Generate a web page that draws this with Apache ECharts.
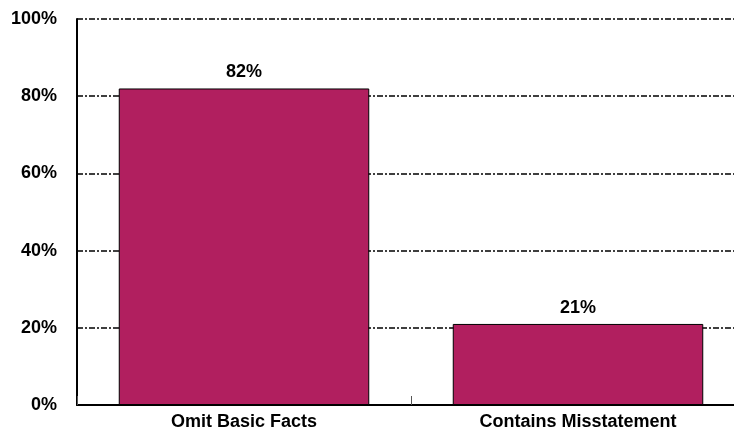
<!DOCTYPE html>
<html><head><meta charset="utf-8">
<script src="https://cdn.jsdelivr.net/npm/echarts@6/dist/echarts.min.js"></script>
<style>html,body{margin:0;padding:0;background:#fff;overflow:hidden}#c{width:745px;height:434px}</style>
</head><body><div id="c"></div>
<script>
const categories = ['Omit Basic Facts', 'Contains Misstatement'];
const values = [82, 21];
const yTicks = [0, 20, 40, 60, 80, 100];

const FONT = 'Liberation Sans, Arial, sans-serif';
const chart = echarts.init(document.getElementById('c'), null, {renderer: 'canvas'});
chart.setOption({
  animation: false,
  grid: {left: 77, right: 0, top: 19, bottom: 29, containLabel: false},
  xAxis: {
    type: 'category', data: categories,
    axisLine: {lineStyle: {color: '#000', width: 2}},
    axisTick: {show: true, inside: true, length: 9, lineStyle: {color: '#555', width: 1}},
    axisLabel: {color: '#000', fontFamily: FONT, fontWeight: 'bold', fontSize: 18, margin: 8}
  },
  yAxis: {
    type: 'value', min: yTicks[0], max: yTicks[yTicks.length - 1], interval: 20,
    axisLine: {show: true, lineStyle: {color: '#000', width: 2}},
    axisTick: {show: false},
    axisLabel: {color: '#000', fontFamily: FONT, fontWeight: 'bold', fontSize: 18, margin: 20, formatter: '{value}%'},
    splitLine: {show: true, lineStyle: {color: '#000', width: 1.5, type: [6, 2, 2, 2]}}
  },
  series: [{
    type: 'bar', data: values, barWidth: '75%',
    itemStyle: {color: '#B11F5F', borderColor: '#000', borderWidth: 1},
    label: {show: true, position: 'top', distance: 7, formatter: '{c}%', color: '#000', fontFamily: FONT, fontWeight: 'bold', fontSize: 18}
  }]
});
</script></body></html>
